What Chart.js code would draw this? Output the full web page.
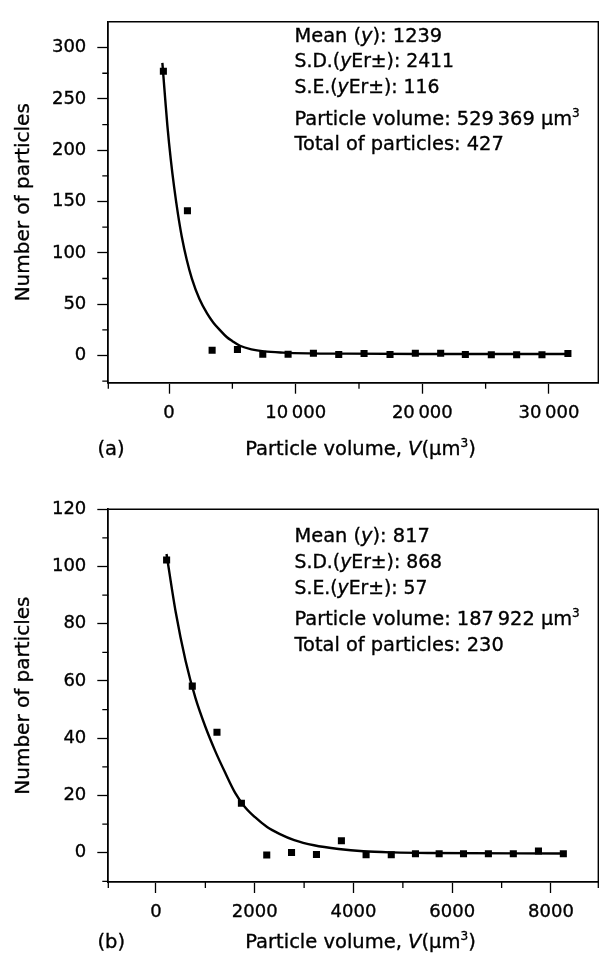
<!DOCTYPE html>
<html>
<head>
<meta charset="utf-8">
<script src="https://cdn.jsdelivr.net/npm/chart.js@4.4.1/dist/chart.umd.min.js"></script>
<style>
  html, body { margin: 0; padding: 0; background: #fff; }
  #wrap { position: relative; width: 608px; height: 953px; background: #fff; overflow: hidden; }
  canvas { position: absolute; left: 0; }
  #chartA { top: 0; }
  #chartB { top: 480px; }
</style>
</head>
<body>
<div id="wrap">
  <canvas id="chartA" width="608" height="470"></canvas>
  <canvas id="chartB" width="608" height="473"></canvas>
</div>
<script>
// ---- Panel (a): particle volume histogram with exponential decay fit ----
const volumeA = [-450, 1450, 3400, 5400, 7400, 9400, 11400, 13400, 15400, 17450, 19450, 21450, 23400, 25450, 27450, 29450, 31500];
const countA  = [277, 141, 5.2, 5.8, 1.2, 1.2, 2.2, 1.0, 2.0, 1.0, 2.2, 2.2, 1.0, 0.8, 0.7, 0.7, 1.9];
const fitVolumeA = [-529, -300, -134, 134, 400, 700, 1000, 1400, 1800, 2400, 3000, 3500, 4000, 4550, 5000, 5600, 6500, 7500, 9000, 11000, 14000, 20000, 31500];
const fitCountA  = [285, 249, 224, 191, 164, 138, 116, 93, 75, 55, 41, 32, 25, 18, 14, 9.5, 6, 4, 2.8, 2.1, 1.8, 1.5, 1.5];
const xTicksA = [0, 10000, 20000, 30000];
const xTickLabelsA = ['0', '10\u2009000', '20\u2009000', '30\u2009000'];
const xMinorA = [-5000, 5000, 15000, 25000];
const yTicksA = [0, 50, 100, 150, 200, 250, 300];
const yTickLabelsA = ['0', '50', '100', '150', '200', '250', '300'];
const yMinorA = [-25, 25, 75, 125, 175, 225, 275];
const statsA = ['1239', '2411', '116', '529\u2009369', '427'];

// ---- Panel (b) ----
const volumeB = [215, 735, 1235, 1730, 2243, 2745, 3250, 3755, 4255, 4765, 5255, 5735, 6228, 6732, 7237, 7746, 8250];
const countB  = [102.3, 58.2, 42.1, 17.3, -0.8, 0.1, -0.6, 4.2, -0.7, -0.7, -0.35, -0.35, -0.35, -0.35, -0.35, 0.6, -0.35];
const fitVolumeB = [213, 400, 600, 800, 1000, 1200, 1400, 1600, 1800, 2000, 2250, 2500, 2800, 3200, 3700, 4200, 4800, 5500, 8250];
const fitCountB  = [104.4, 84, 67, 54, 44, 35.5, 28, 21, 16, 12.5, 9, 6.6, 4.4, 2.6, 1.3, 0.5, 0.1, -0.1, -0.3];
const xTicksB = [0, 2000, 4000, 6000, 8000];
const xTickLabelsB = ['0', '2000', '4000', '6000', '8000'];
const xMinorB = [-1000, 1000, 3000, 5000, 7000, 9000];
const yTicksB = [0, 20, 40, 60, 80, 100, 120];
const yTickLabelsB = ['0', '20', '40', '60', '80', '100', '120'];
const yMinorB = [-10, 10, 30, 50, 70, 90, 110];
const statsB = ['817', '868', '57', '187\u2009922', '230'];

const FAMILY = '"DejaVu Sans", "Liberation Sans", sans-serif';
const INK = '#000';
const TEXT_STROKE = 0.35;

function fontOf(size, italic) {
  return (italic ? 'italic ' : '') + size + 'px ' + FAMILY;
}

// Draws a line of text made of runs with plain, italic or superscript styling.
function drawRuns(ctx, runs, x, y, size, align) {
  const pieces = runs.map(([t, s]) => {
    const sz = s === 'sup' ? size * 0.62 : size;
    const f = fontOf(sz, s === 'i');
    ctx.font = f;
    return { t, f, w: ctx.measureText(t).width, dy: s === 'sup' ? -size * 0.42 : 0 };
  });
  const total = pieces.reduce((a, p) => a + p.w, 0);
  let cx = align === 'center' ? x - total / 2 : x;
  ctx.textAlign = 'left';
  ctx.fillStyle = INK;
  ctx.strokeStyle = INK;
  ctx.lineWidth = TEXT_STROKE;
  for (const p of pieces) {
    ctx.font = p.f;
    ctx.fillText(p.t, cx, y + p.dy);
    ctx.strokeText(p.t, cx, y + p.dy);
    cx += p.w;
  }
}

function statRuns(stats) {
  return [
    { runs: [['Mean ('], ['y', 'i'], ['): ' + stats[0]]], size: 19.4, dy: 0 },
    { runs: [['S.D.('], ['y', 'i'], ['Er\u00B1): ' + stats[1]]], size: 18.8, dy: 25.6 },
    { runs: [['S.E.('], ['y', 'i'], ['Er\u00B1): ' + stats[2]]], size: 18.8, dy: 51.5 },
    { runs: [['Particle volume: ' + stats[3] + ' \u03BCm'], ['3', 'sup']], size: 19.4, dy: 83 },
    { runs: [['Total of particles: ' + stats[4]]], size: 19.4, dy: 108.6 }
  ];
}

// Frame, minor ticks, statistics box, panel letter and axis titles.
const decorations = {
  id: 'decorations',
  afterDraw(chart, args, opts) {
    const { ctx, chartArea: a, scales } = chart;
    ctx.save();
    ctx.strokeStyle = INK;

    // top and right edges of the frame
    ctx.lineWidth = 1.4;
    ctx.beginPath();
    ctx.moveTo(a.left, a.top);
    ctx.lineTo(a.right, a.top);
    ctx.lineTo(a.right, a.bottom);
    ctx.stroke();

    // short minor ticks pointing out of the plot
    ctx.lineWidth = 1.3;
    ctx.beginPath();
    for (const v of opts.xMinor) {
      let p = scales.x.getPixelForValue(v);
      if (p < a.left - 4 || p > a.right + 4) continue;
      p = Math.min(Math.max(p, a.left), a.right);
      ctx.moveTo(p, a.bottom);
      ctx.lineTo(p, a.bottom + 6);
    }
    for (const v of opts.yMinor) {
      let p = scales.y.getPixelForValue(v);
      if (p < a.top - 4 || p > a.bottom + 4) continue;
      p = Math.min(Math.max(p, a.top), a.bottom);
      ctx.moveTo(a.left, p);
      ctx.lineTo(a.left - 6, p);
    }
    ctx.stroke();

    // statistics
    ctx.textBaseline = 'alphabetic';
    for (const line of statRuns(opts.stats)) {
      drawRuns(ctx, line.runs, opts.statsX, opts.statsY + line.dy, line.size, 'left');
    }

    // panel letter and x-axis title
    drawRuns(ctx, [[opts.letter]], opts.letterX, opts.titleY, 19.5, 'left');
    drawRuns(ctx, [['Particle volume, '], ['V', 'i'], ['(\u03BCm'], ['3', 'sup'], [')']],
      opts.titleX, opts.titleY, 19.5, 'center');

    // y-axis title, rotated
    ctx.save();
    ctx.translate(opts.yTitleX, (a.top + a.bottom) / 2);
    ctx.rotate(-Math.PI / 2);
    ctx.textBaseline = 'middle';
    drawRuns(ctx, [['Number of particles']], 0, 0, 20, 'center');
    ctx.restore();

    ctx.restore();
  }
};

function makeChart(canvasId, cfg) {
  const pts = cfg.xs.map((x, i) => ({ x, y: cfg.ys[i] }));
  const fit = cfg.fitXs.map((x, i) => ({ x, y: cfg.fitYs[i] }));
  const tickFont = { family: FAMILY, size: 18 };
  return new Chart(document.getElementById(canvasId), {
    type: 'scatter',
    data: {
      datasets: [
        {
          data: fit,
          showLine: true,
          borderColor: INK,
          borderWidth: 2.4,
          pointRadius: 0,
          cubicInterpolationMode: 'monotone',
          fill: false,
          order: 2
        },
        {
          data: pts,
          pointStyle: 'rect',
          pointRadius: 5,
          pointBackgroundColor: INK,
          pointBorderWidth: 0,
          borderWidth: 0,
          showLine: false,
          order: 1
        }
      ]
    },
    options: {
      responsive: false,
      animation: false,
      devicePixelRatio: 1,
      events: [],
      layout: { autoPadding: false, padding: { top: cfg.padTop, right: 9.7, bottom: 0, left: 0 } },
      plugins: {
        legend: { display: false },
        tooltip: { enabled: false },
        decorations: cfg.deco
      },
      scales: {
        x: {
          type: 'linear',
          min: cfg.xMin,
          max: cfg.xMax,
          afterBuildTicks: s => { s.ticks = cfg.xTicks.map(v => ({ value: v })); },
          afterFit: s => { s.height = cfg.xAxisHeight; },
          ticks: {
            callback: v => cfg.xLabels[cfg.xTicks.indexOf(v)],
            font: tickFont,
            color: INK,
            textStrokeColor: INK,
            textStrokeWidth: TEXT_STROKE,
            padding: 8.5,
            maxRotation: 0,
            autoSkip: false
          },
          grid: { display: true, drawOnChartArea: false, drawTicks: true, tickLength: 11, tickWidth: 1.3, tickColor: INK },
          border: { display: true, color: INK, width: 1.8 }
        },
        y: {
          type: 'linear',
          min: cfg.yMin,
          max: cfg.yMax,
          afterBuildTicks: s => { s.ticks = cfg.yTicks.map(v => ({ value: v })); },
          afterFit: s => { s.width = 108.3; },
          ticks: {
            callback: v => cfg.yLabels[cfg.yTicks.indexOf(v)],
            font: tickFont,
            color: INK,
            textStrokeColor: INK,
            textStrokeWidth: TEXT_STROKE,
            padding: 11,
            autoSkip: false
          },
          grid: { display: true, drawOnChartArea: false, drawTicks: true, tickLength: 11, tickWidth: 1.3, tickColor: INK },
          border: { display: true, color: INK, width: 1.8 }
        }
      }
    },
    plugins: [decorations]
  });
}

makeChart('chartA', {
  xs: volumeA, ys: countA, fitXs: fitVolumeA, fitYs: fitCountA,
  xTicks: xTicksA, xLabels: xTickLabelsA, yTicks: yTicksA, yLabels: yTickLabelsA,
  xMin: -4800, xMax: 33900, yMin: -26.5, yMax: 325.1,
  padTop: 10.7, xAxisHeight: 87.3,
  deco: { xMinor: xMinorA, yMinor: yMinorA, stats: statsA, statsX: 294.5, statsY: 41.7,
          letter: '(a)', letterX: 97.5, titleX: 360.5, titleY: 455, yTitleX: 23.4 }
});

makeChart('chartB', {
  xs: volumeB, ys: countB, fitXs: fitVolumeB, fitYs: fitCountB,
  xTicks: xTicksB, xLabels: xTickLabelsB, yTicks: yTicksB, yLabels: yTickLabelsB,
  xMin: -966, xMax: 8958, yMin: -10.24, yMax: 120,
  padTop: 29.3, xAxisHeight: 71,
  deco: { xMinor: xMinorB, yMinor: yMinorB, stats: statsB, statsX: 294.5, statsY: 62.3,
          letter: '(b)', letterX: 97.5, titleX: 360.5, titleY: 468, yTitleX: 23.4 }
});
</script>
</body>
</html>
